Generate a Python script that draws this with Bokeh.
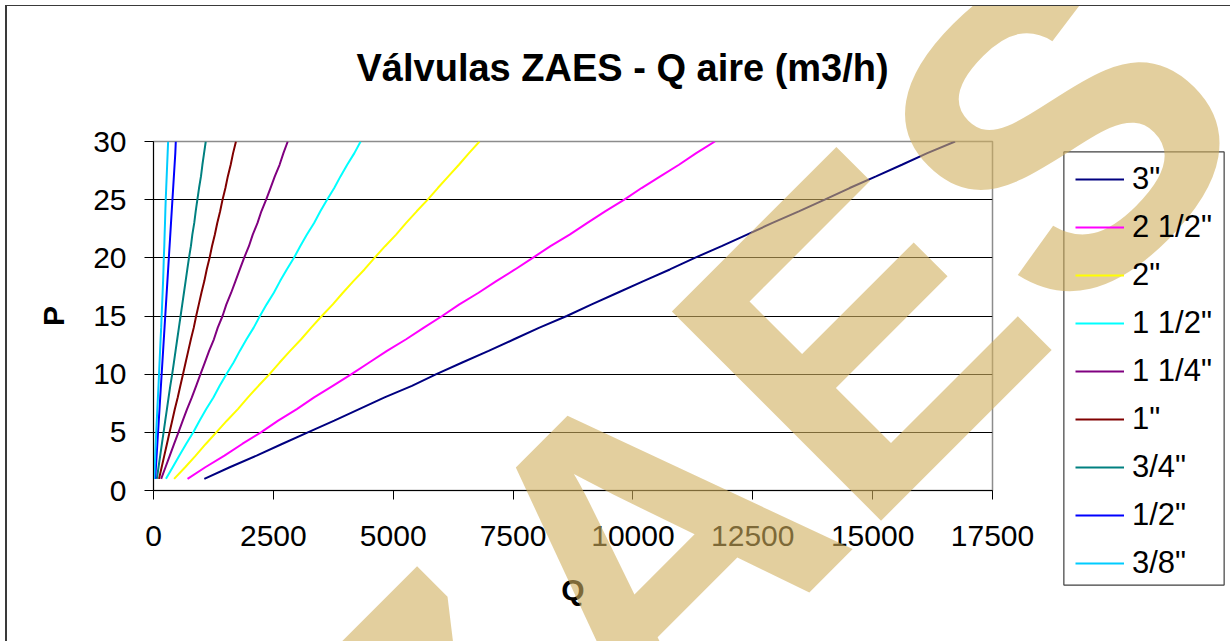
from bokeh.plotting import figure
from bokeh.models import (Range1d, FixedTicker, NumeralTickFormatter, Legend,
                          LegendItem, Label)
from bokeh.embed import file_html
from bokeh.resources import INLINE

# ---------------- data ----------------
pressure = list(range(1, 31))

series_names = ['3"', '2 1/2"', '2"', '1 1/2"', '1 1/4"', '1"', '3/4"', '1/2"', '3/8"']
series_colors = ["#000080", "#FF00FF", "#FFFF00", "#00FFFF", "#800080",
                 "#800000", "#008080", "#0000FF", "#00CCFF"]

q_3 = [1060, 1590, 2150, 2680, 3220, 3770, 4290, 4820, 5390, 5900, 6440, 6990, 7520, 8050, 8620,
       9140, 9680, 10220, 10770, 11290, 11850, 12380, 12910, 13460, 14000, 14520, 15070, 15610, 16140, 16720]
q_2_1_2 = [710, 1080, 1480, 1850, 2240, 2600, 2990, 3350, 3740, 4130, 4500, 4870, 5270, 5640, 6020,
           6380, 6780, 7150, 7540, 7910, 8280, 8680, 9050, 9420, 9820, 10180, 10570, 10960, 11320, 11710]
q_2 = [430, 660, 880, 1090, 1310, 1530, 1760, 1970, 2190, 2420, 2630, 2850, 3080, 3290, 3510,
       3740, 3950, 4170, 4400, 4610, 4830, 5060, 5270, 5490, 5720, 5930, 6150, 6370, 6580, 6800]
q_1_1_2 = [260, 400, 540, 680, 830, 960, 1100, 1250, 1380, 1520, 1670, 1800, 1940, 2090, 2220,
           2360, 2510, 2640, 2780, 2930, 3060, 3200, 3350, 3480, 3620, 3770, 3900, 4040, 4190, 4320]
q_1_1_4 = [160, 250, 340, 430, 520, 610, 700, 800, 890, 980, 1070, 1160, 1260, 1340, 1440,
           1520, 1620, 1710, 1800, 1890, 1990, 2070, 2170, 2250, 2350, 2440, 2530, 2630, 2710, 2800]
q_1 = [115, 170, 225, 280, 335, 390, 445, 505, 560, 615, 670, 725, 780, 840, 890,
       945, 1000, 1060, 1110, 1170, 1220, 1280, 1330, 1390, 1440, 1500, 1550, 1610, 1660, 1720]
q_3_4 = [70, 105, 140, 175, 210, 245, 280, 315, 350, 390, 425, 460, 495, 530, 565,
         600, 635, 670, 705, 740, 780, 810, 850, 880, 915, 950, 990, 1020, 1055, 1090]
q_1_2 = [35, 50, 65, 80, 95, 110, 125, 140, 155, 170, 185, 200, 215, 230, 245,
         260, 275, 290, 305, 320, 335, 350, 365, 380, 395, 410, 425, 440, 455, 465]
q_3_8 = [15, 25, 35, 45, 57, 68, 80, 92, 104, 115, 126, 137, 148, 160, 170,
         180, 190, 200, 208, 215, 225, 232, 240, 247, 255, 265, 275, 285, 295, 305]

series_values = [q_3, q_2_1_2, q_2, q_1_1_2, q_1_1_4, q_1, q_3_4, q_1_2, q_3_8]

x_ticks = [0, 2500, 5000, 7500, 10000, 12500, 15000, 17500]
y_ticks = [0, 5, 10, 15, 20, 25, 30]

title_text = "Válvulas ZAES - Q aire (m3/h)"
x_label = "Q"
y_label = "P"
watermark_text = "ZAES"

# ---------------- layout (pixels) ----------------
FONT = "Liberation Sans"
OX, OY = 7, 6             # page position of canvas origin (5px margin + css border)
W, H = 1223, 635          # canvas size
FL, FT = 153 - OX, 141 - OY
FW, FH = 839, 349
X0, X1 = 0, 17500
Y0, Y1 = 0, 30
FRAME_R = OX + FL + FW    # page x of frame right
FRAME_B = OY + FT + FH    # page y of frame bottom


def dx(px):   # page x -> data x
    return X0 + (px - (OX + FL)) * (X1 - X0) / FW


def dy(py):   # page y -> data y
    return Y0 + (FRAME_B - py) * (Y1 - Y0) / FH


p = figure(frame_width=FW, frame_height=FH,
           min_border_left=FL, min_border_top=FT,
           min_border_right=W - FL - FW, min_border_bottom=H - FT - FH,
           x_range=Range1d(X0, X1), y_range=Range1d(Y0, Y1),
           output_backend="svg", toolbar_location=None, title=None)
p.styles = {"margin-left": "5px", "margin-top": "5px",
            "border-left": "2px solid #3a3a3a", "border-top": "1px solid #3a3a3a"}

p.background_fill_color = "white"
p.border_fill_color = "white"
p.outline_line_color = "#8c8c8c"
p.outline_line_width = 1.5

# axes
for ax in (p.xaxis[0], p.yaxis[0]):
    ax.axis_line_color = "black"
    ax.axis_line_width = 1
    ax.major_tick_line_color = "black"
    ax.major_tick_out = 9
    ax.major_tick_in = 0
    ax.minor_tick_line_color = None
    ax.major_label_text_font = FONT
    ax.major_label_text_font_size = "30px"
    ax.major_label_text_color = "black"
    ax.axis_label_text_font = FONT
    ax.axis_label_text_font_style = "bold"
    ax.axis_label_text_font_size = "30px"
    ax.axis_label_text_color = "black"

p.xaxis.ticker = FixedTicker(ticks=x_ticks)
p.xaxis.formatter = NumeralTickFormatter(format="0")
p.xaxis.major_label_standoff = 26
p.xaxis.axis_label = x_label
p.xaxis.axis_label_standoff = 24

p.yaxis.ticker = FixedTicker(ticks=y_ticks)
p.yaxis.major_label_standoff = 18
p.yaxis.axis_label = y_label
p.yaxis.axis_label_standoff = 20

p.xgrid.visible = False
p.ygrid.ticker = FixedTicker(ticks=y_ticks[1:-1])
p.ygrid.grid_line_color = "black"
p.ygrid.grid_line_width = 1

# series
items = []
for name, color, vals in zip(series_names, series_colors, series_values):
    r = p.line(vals, pressure, line_color=color, line_width=2)
    items.append(LegendItem(label=name, renderers=[r]))

# legend entries in the right panel (frame of the legend drawn separately)
ITEM_H = 48
LEG_GLYPH_L, LEG_FIRST_C = 1075, 179
leg_top = LEG_FIRST_C - ITEM_H / 2
leg_h = ITEM_H * len(items)
legend = Legend(items=items,
                location=(LEG_GLYPH_L - FRAME_R, FRAME_B - (leg_top + leg_h)),
                orientation="vertical", padding=0, margin=0, spacing=0,
                glyph_width=49, glyph_height=ITEM_H, label_height=ITEM_H,
                label_standoff=8,
                label_text_font=FONT, label_text_font_size="31px",
                label_text_color="black", label_text_baseline="middle",
                border_line_alpha=0, background_fill_alpha=0)
p.add_layout(legend, "right")

# legend box
BOX_L, BOX_T, BOX_R, BOX_B = 1063, 152, 1224, 584
p.add_layout(Label(x=dx((BOX_L + BOX_R) / 2), y=dy((BOX_T + BOX_B) / 2), text=" ",
                   text_font_size="1px", text_align="center", text_baseline="middle",
                   anchor="center",
                   padding=(int((BOX_R - BOX_L) / 2), int((BOX_B - BOX_T) / 2)),
                   border_line_color="#404040", border_line_width=1.2,
                   background_fill_color=None), "below")

# title (annotation in a side panel so it can sit anywhere on the canvas)
p.add_layout(Label(x=dx(356), y=dy(67), text=title_text, text_align="left",
                   text_baseline="alphabetic", text_font=FONT, text_font_style="bold",
                   text_font_size="38px", text_color="black"), "below")

# watermark, centred at page (755, 435), rotated 45 deg
p.add_layout(Label(x=dx(755), y=dy(435), text=watermark_text, angle=45, angle_units="deg",
                   text_align="center", text_baseline="middle", text_font=FONT,
                   text_font_style="bold", text_font_size="430px",
                   text_color="#D0AF5D", text_alpha=0.6, level="overlay"), "below")

open("out.html", "w").write(file_html(p, INLINE))
